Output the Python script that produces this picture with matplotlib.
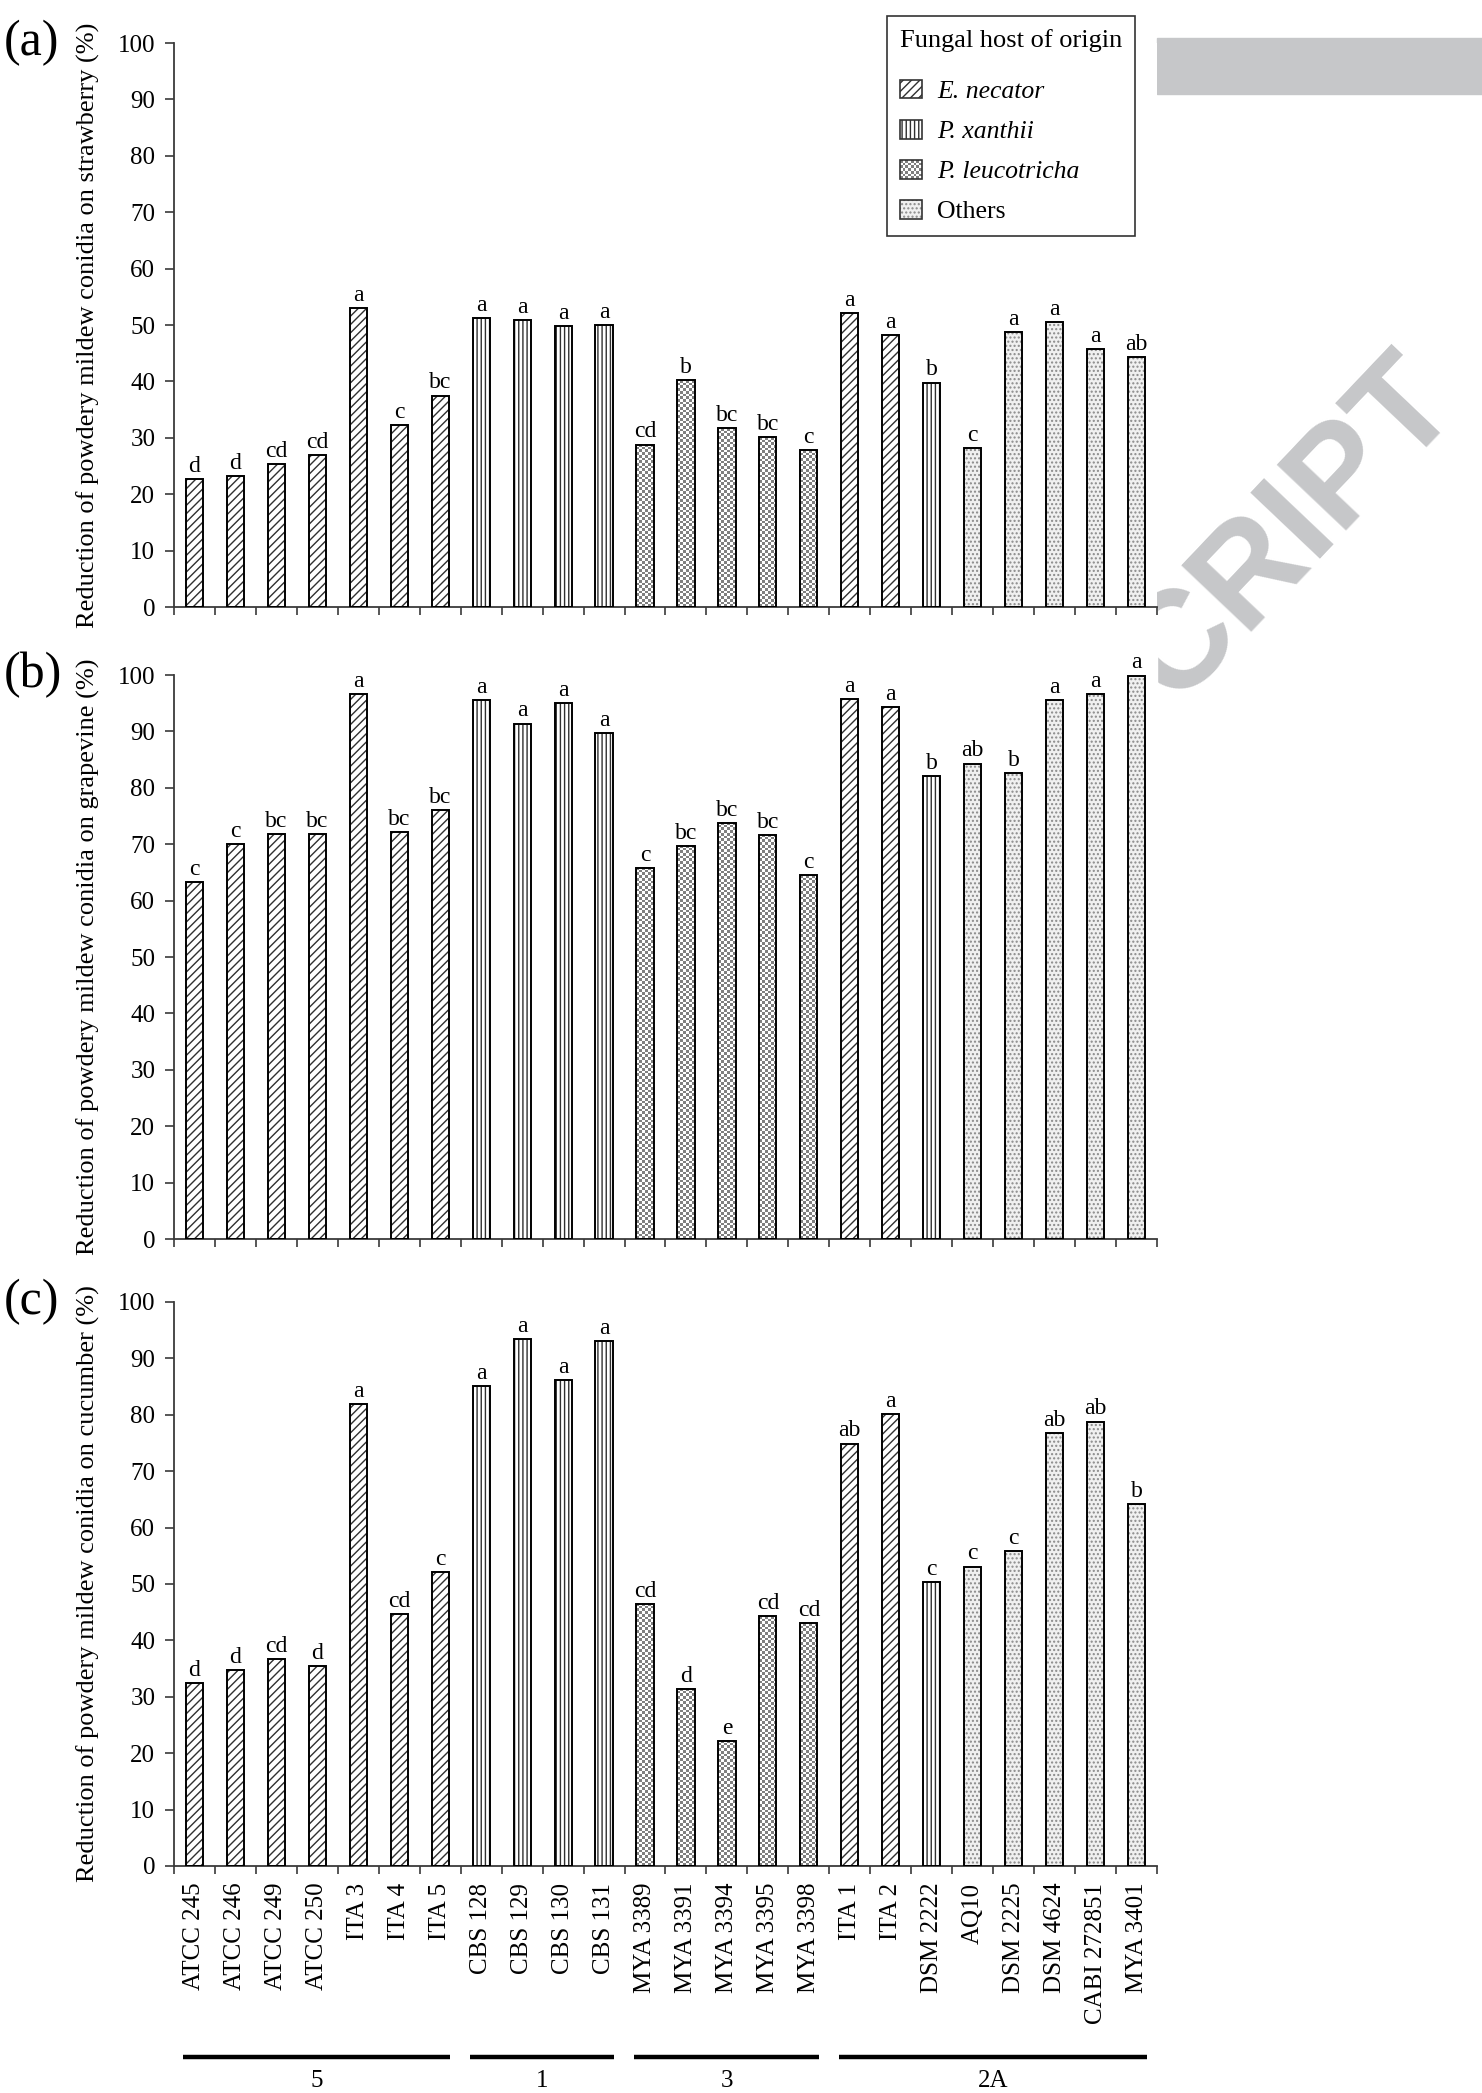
import numpy as np
import matplotlib
matplotlib.use("Agg")
import matplotlib.pyplot as plt
import matplotlib.transforms as mtransforms
from matplotlib.patches import Patch, Rectangle
from matplotlib.colors import ListedColormap
from matplotlib.image import BboxImage
from matplotlib.legend_handler import HandlerBase

plt.rcParams['font.family'] = ['Liberation Serif', 'DejaVu Serif']
plt.rcParams['hatch.linewidth'] = 1.0

# strains and the fungal host they came from
strains = ['ATCC 245', 'ATCC 246', 'ATCC 249', 'ATCC 250', 'ITA 3', 'ITA 4', 'ITA 5',
           'CBS 128', 'CBS 129', 'CBS 130', 'CBS 131',
           'MYA 3389', 'MYA 3391', 'MYA 3394', 'MYA 3395', 'MYA 3398',
           'ITA 1', 'ITA 2', 'DSM 2222', 'AQ10', 'DSM 2225', 'DSM 4624',
           'CABI 272851', 'MYA 3401']
host = ['En'] * 7 + ['Px'] * 4 + ['Pl'] * 5 + ['En', 'En', 'Px'] + ['Ot'] * 5
host_names = ['E. necator', 'P. xanthii', 'P. leucotricha', 'Others']

# reduction (%) per host plant + letters of the mean separation
strawberry = [22.7, 23.2, 25.3, 26.9, 53.0, 32.3, 37.5, 51.2, 50.9, 49.8, 50.0,
              28.8, 40.2, 31.7, 30.1, 27.8, 52.1, 48.2, 39.8, 28.2, 48.8, 50.6, 45.7, 44.3]
strawberry_letters = ['d', 'd', 'cd', 'cd', 'a', 'c', 'bc', 'a', 'a', 'a', 'a',
                      'cd', 'b', 'bc', 'bc', 'c', 'a', 'a', 'b', 'c', 'a', 'a', 'a', 'ab']
grapevine = [63.3, 70.1, 71.8, 71.8, 96.6, 72.1, 76.1, 95.5, 91.4, 95.0, 89.7,
             65.8, 69.7, 73.8, 71.7, 64.5, 95.8, 94.3, 82.1, 84.3, 82.6, 95.5, 96.7, 99.9]
grapevine_letters = ['c', 'c', 'bc', 'bc', 'a', 'bc', 'bc', 'a', 'a', 'a', 'a',
                     'c', 'bc', 'bc', 'bc', 'c', 'a', 'a', 'b', 'ab', 'b', 'a', 'a', 'a']
cucumber = [32.5, 34.8, 36.7, 35.4, 81.9, 44.6, 52.2, 85.1, 93.5, 86.1, 93.0,
            46.5, 31.4, 22.2, 44.3, 43.0, 74.9, 80.2, 50.3, 53.1, 55.9, 76.8, 78.8, 64.1]
cucumber_letters = ['d', 'd', 'cd', 'd', 'a', 'cd', 'c', 'a', 'a', 'a', 'a',
                    'cd', 'd', 'e', 'cd', 'cd', 'ab', 'a', 'c', 'c', 'c', 'ab', 'ab', 'b']

# FRAC groups under the x axis
groups = ['5', '1', '3', '2A']
group_sizes = [7, 4, 5, 8]

styles = {
    'En': dict(hatch='////', fc='white', hc='#303030'),
    'Px': dict(hatch='||||', fc='white', hc='#303030'),
    'Ot': dict(hatch='....', fc='#f0f0f0', hc='#8a8a8a'),
}
checker_cmap = ListedColormap(['#7f7f7f', '#ffffff'])
BAR_W = 0.42
SQ = 2.7  # checker square size in pixels


def checker(nr, nc):
    r, c = np.indices((max(nr, 1), max(nc, 1)))
    return (r + c) % 2


class CheckerHandler(HandlerBase):
    def create_artists(self, legend, orig_handle, xdescent, ydescent,
                       width, height, fontsize, trans):
        box = mtransforms.Bbox.from_bounds(-xdescent, -ydescent, width, height)
        img = BboxImage(mtransforms.TransformedBbox(box, trans), cmap=checker_cmap,
                        interpolation='nearest', origin='lower')
        img.set_data(checker(7, 8))
        frame = Rectangle((-xdescent, -ydescent), width, height, fill=False,
                          edgecolor='#333333', linewidth=1.2, transform=trans)
        return [img, frame]


W_PX, H_PX = 1482, 2093
fig = plt.figure(figsize=(W_PX / 100, H_PX / 100), dpi=100)

left = 174 / W_PX
width = 983 / W_PX
height = 564 / H_PX
ax_a = fig.add_axes([left, 1 - 607 / H_PX, width, height])
ax_b = fig.add_axes([left, 1 - 1239 / H_PX, width, height])
ax_c = fig.add_axes([left, 1 - 1866 / H_PX, width, height])


def draw_panel(ax, values, letters, ylabel, tag, show_names):
    x = np.arange(len(strains))
    px_per_unit = ax.bbox.height / 100
    px_per_cat = ax.bbox.width / len(strains)
    for i, v in enumerate(values):
        if host[i] == 'Pl':
            bar = ax.bar(x[i], v, BAR_W, color='white', linewidth=0, zorder=2)[0]
            nr = int(round(v * px_per_unit / SQ))
            nc = int(round(BAR_W * px_per_cat / SQ))
            ax.imshow(checker(nr, nc), cmap=checker_cmap, interpolation='nearest',
                      extent=[x[i] - BAR_W / 2, x[i] + BAR_W / 2, 0, v],
                      aspect='auto', origin='lower', clip_path=bar, zorder=2)
        else:
            st = styles[host[i]]
            ax.bar(x[i], v, BAR_W, color=st['fc'], edgecolor=st['hc'],
                   hatch=st['hatch'], linewidth=0, zorder=2)
        ax.bar(x[i], v, BAR_W, fill=False, edgecolor='black', linewidth=1.4, zorder=3)
        ax.annotate(letters[i], (x[i], v), xytext=(0, 1.5), textcoords='offset points',
                    ha='center', va='bottom', fontsize=17)

    ax.set_xlim(-0.5, len(strains) - 0.5)
    ax.set_ylim(0, 100)
    ax.set_yticks(np.arange(0, 101, 10))
    for s in ['top', 'right']:
        ax.spines[s].set_visible(False)
    for s in ['left', 'bottom']:
        ax.spines[s].set_color('#3a3a3a')
        ax.spines[s].set_linewidth(1.3)
    ax.tick_params(axis='y', length=6.5, width=1.2, color='#3a3a3a', labelsize=18, pad=7)
    ax.set_xticks(x)
    ax.set_xticks(np.arange(-0.5, len(strains), 1), minor=True)
    ax.tick_params(axis='x', which='major', length=0, pad=12)
    ax.tick_params(axis='x', which='minor', length=6, width=1.2, color='#3a3a3a')
    if show_names:
        ax.set_xticklabels(strains, rotation=90, fontsize=18)
    else:
        ax.set_xticklabels([])

    ax.set_ylabel(ylabel, fontsize=19)
    ax.yaxis.label.set_va('center')
    ax.yaxis.set_label_coords(-0.0875, 0.5)

    top = ax.get_position().y1
    fig.text(4 / W_PX, top, tag, fontsize=36, ha='left', va='center')


draw_panel(ax_a, strawberry, strawberry_letters,
           'Reduction of powdery mildew conidia on strawberry (%)', '(a)', False)
draw_panel(ax_b, grapevine, grapevine_letters,
           'Reduction of powdery mildew conidia on grapevine (%)', '(b)', False)
draw_panel(ax_c, cucumber, cucumber_letters,
           'Reduction of powdery mildew conidia on cucumber (%)', '(c)', True)

# group bars and labels below the strain names
trans = mtransforms.blended_transform_factory(ax_c.transData, fig.transFigure)
start = 0
for name, n in zip(groups, group_sizes):
    x0, x1 = start - 0.27, start + n - 1 + 0.25
    ax_c.plot([x0, x1], [1 - 2057 / H_PX] * 2, transform=trans, clip_on=False,
              color='black', linewidth=3.2, solid_capstyle='butt')
    ax_c.text((x0 + x1) / 2, 1 - 2081 / H_PX, name, transform=trans,
              ha='center', va='center', fontsize=18)
    start += n

# legend of host origin
handles = []
checker_handle = Patch()
for kind in ['En', 'Px', 'Pl', 'Ot']:
    if kind == 'Pl':
        handles.append(checker_handle)
        continue
    st = styles[kind]
    p1 = Patch(facecolor=st['fc'], edgecolor=st['hc'], hatch=st['hatch'], linewidth=0)
    p2 = Patch(fill=False, edgecolor='#333333', linewidth=1.2)
    handles.append((p1, p2))
leg = fig.legend(handles, host_names, loc='upper left',
                 bbox_to_anchor=(887 / W_PX, 1 - 16 / H_PX), borderaxespad=0,
                 handler_map={checker_handle: CheckerHandler()},
                 title='Fungal host of origin', fontsize=18.5, title_fontsize=19,
                 frameon=True, fancybox=False, edgecolor='#333333', framealpha=1,
                 handlelength=0.85, handleheight=0.75, labelspacing=0.65,
                 borderpad=0.5, handletextpad=0.6, alignment='left')
leg.get_frame().set_linewidth(1.2)
leg._legend_box.sep = 20
for t in leg.get_texts()[:3]:
    t.set_fontstyle('italic')

# manuscript stamp: grey banner and the diagonal lettering behind the panels
fig.patches.append(Rectangle((1157 / W_PX, 1 - 94 / H_PX), 325 / W_PX, 56 / H_PX,
                             transform=fig.transFigure, color='#c6c7c9', zorder=-1))
fig.text(1292 / W_PX, 1 - 530 / H_PX, 'CRIPT', fontsize=100, fontweight='bold',
         family='Liberation Sans', color='#c6c7c9', rotation=46.5,
         rotation_mode='anchor', ha='center', va='center', zorder=-1)
fig.patches.append(Rectangle((0, 0), 1157 / W_PX, 1 - 607 / H_PX,
                             transform=fig.transFigure, color='white', zorder=-0.5))

fig.savefig('out.png', dpi=100)
